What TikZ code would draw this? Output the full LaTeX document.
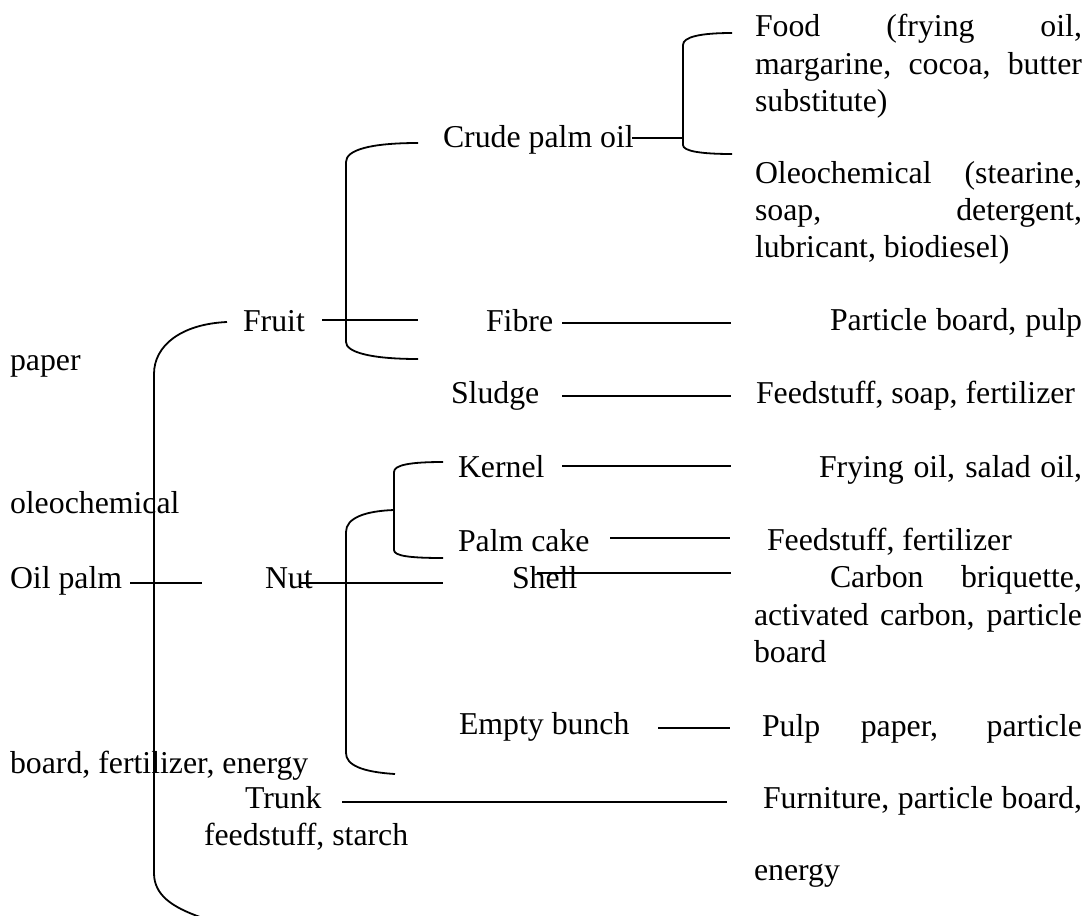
\documentclass[tikz,border=0pt]{standalone}
\usepackage{fontspec}
\setmainfont{Liberation Serif}
\begin{document}
\begin{tikzpicture}[x=1pt,y=-1pt,
  lbl/.style={anchor=base west,inner sep=0pt,outer sep=0pt,font=\fontsize{31.8}{37}\selectfont},
  ln/.style={line width=1.8pt,line cap=butt},
  brk/.style={line width=1.8pt}]
\useasboundingbox (0,0) rectangle (1088,916);
% ---------- text nodes ----------
\node[lbl] (food1) at (755,36) {\makebox[327pt][s]{Food (frying oil,}};
\node[lbl] (food2) at (755,74) {\makebox[327pt][s]{margarine, cocoa, butter}};
\node[lbl] (food3) at (755,111) {substitute)};
\node[lbl] (oleo1) at (755,183) {\makebox[327pt][s]{Oleochemical (stearine,}};
\node[lbl] (oleo2) at (755,220) {\makebox[327pt][s]{soap, detergent,}};
\node[lbl] (oleo3) at (755,257) {lubricant, biodiesel)};
\node[lbl] (crude) at (443,147) {Crude palm oil};
\node[lbl] (fruit) at (243,331) {Fruit};
\node[lbl] (fibre) at (486,331) {Fibre};
\node[lbl] (pb) at (830,330) {\makebox[252pt][s]{Particle board, pulp}};
\node[lbl] (paper) at (10,370) {paper};
\node[lbl] (sludge) at (451,403) {Sludge};
\node[lbl] (fsf) at (756,403) {Feedstuff, soap, fertilizer};
\node[lbl] (kernel) at (458,477) {Kernel};
\node[lbl] (fry) at (819,477) {\makebox[263pt][s]{Frying oil, salad oil,}};
\node[lbl] (oleochem) at (10,513) {oleochemical};
\node[lbl] (palmcake) at (458,551) {Palm cake};
\node[lbl] (ff) at (767,550) {Feedstuff, fertilizer};
\node[lbl] (oilpalm) at (10,588) {Oil palm};
\node[lbl] (nut) at (265,588) {Nut};
\node[lbl] (shell) at (512,588) {Shell};
\node[lbl] (carbon1) at (830,587) {\makebox[252pt][s]{Carbon briquette,}};
\node[lbl] (carbon2) at (754,625) {\makebox[328pt][s]{activated carbon, particle}};
\node[lbl] (board) at (754,662) {board};
\node[lbl] (empty) at (459,734) {Empty bunch};
\node[lbl] (pulp) at (762,736) {\makebox[320pt][s]{Pulp paper, particle}};
\node[lbl] (bfe) at (10,773) {board, fertilizer, energy};
\node[lbl] (trunk) at (245,808) {Trunk};
\node[lbl] (furn) at (763,808) {\makebox[319pt][s]{Furniture, particle board,}};
\node[lbl] (fs) at (204,845) {feedstuff, starch};
\node[lbl] (energy) at (754,880) {energy};
% ---------- connector end points ----------
\coordinate (crudeR) at (632,138);  \coordinate (foodJ) at (683,138);
\coordinate (fruitR) at (322,320);  \coordinate (fruitE) at (418,320);
\coordinate (fibreR) at (562,323);  \coordinate (fibreE) at (731,323);
\coordinate (sludgeR) at (562,396); \coordinate (sludgeE) at (731,396);
\coordinate (kernelR) at (562,466); \coordinate (kernelE) at (731,466);
\coordinate (cakeR) at (610,538);   \coordinate (cakeE) at (730,538);
\coordinate (oilR) at (130,583);    \coordinate (oilE) at (202,583);
\coordinate (nutR) at (300,583);    \coordinate (nutE) at (443,583);
\coordinate (shellR) at (537,573);  \coordinate (shellE) at (731,573);
\coordinate (emptyR) at (658,728);  \coordinate (emptyE) at (730,728);
\coordinate (trunkR) at (342,802);  \coordinate (trunkE) at (727,802);
% ---------- straight connectors ----------
\draw[ln] (crudeR) -- (foodJ);
\draw[ln] (fruitR) -- (fruitE);
\draw[ln] (fibreR) -- (fibreE);
\draw[ln] (sludgeR) -- (sludgeE);
\draw[ln] (kernelR) -- (kernelE);
\draw[ln] (cakeR) -- (cakeE);
\draw[ln] (oilR) -- (oilE);
\draw[ln] (nutR) -- (nutE);
\draw[ln] (shellR) -- (shellE);
\draw[ln] (emptyR) -- (emptyE);
\draw[ln] (trunkR) -- (trunkE);
% ---------- brackets ----------
% Food / Oleochemical bracket
\draw[brk] (732,33) .. controls (700,33) and (683,37) .. (683,45) -- (683,145) .. controls (683,151) and (700,154) .. (732,154);
% Crude palm oil / Fibre / Sludge bracket
\draw[brk] (418,143) .. controls (370,143) and (346,150) .. (346,162) -- (346,342) .. controls (346,352) and (370,359) .. (418,359);
% Kernel / Palm cake bracket
\draw[brk] (443,462) .. controls (410,462) and (394,465) .. (394,472) -- (394,550) .. controls (394,556) and (410,558) .. (443,558);
% Nut bracket
\draw[brk] (394,510) .. controls (365,511) and (346,518) .. (346,532) -- (346,753) .. controls (346,765) and (362,772) .. (395,774);
% Main bracket
\draw[brk] (227,322) .. controls (182,324) and (154,345) .. (154,374) -- (154,873) .. controls (154,895) and (172,907) .. (200,917);
\end{tikzpicture}
\end{document}
